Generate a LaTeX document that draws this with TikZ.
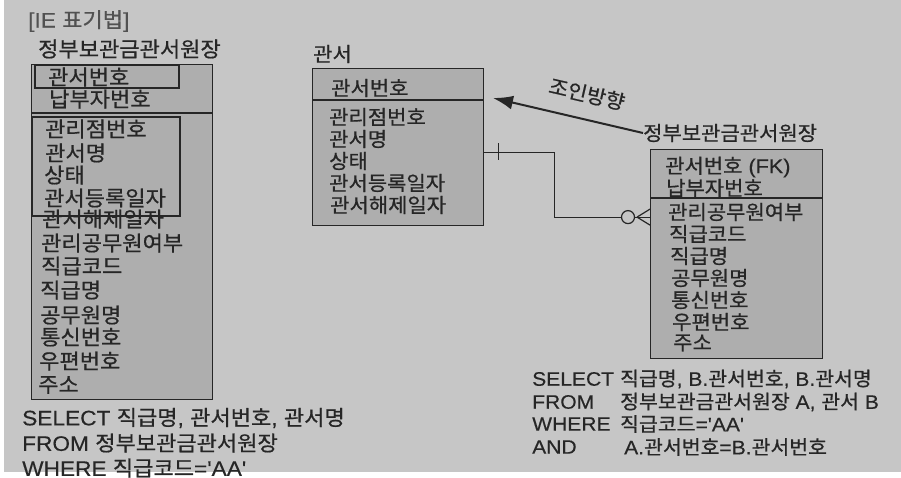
\documentclass[tikz,border=0pt]{standalone}
\usepackage{fontspec}
\setmainfont{Noto Sans CJK KR}[FakeStretch=1.05,FakeBold=0.7]
\newfontfamily\latsans{Liberation Sans}[FakeStretch=1.08,FakeBold=0.3]
\newcommand{\lat}[1]{{\latsans #1}}
\usepackage{tikz}
\usetikzlibrary{arrows.meta,positioning}
\definecolor{pagegray}{RGB}{198,198,198}
\definecolor{boxgray}{RGB}{174,174,174}
\definecolor{inkgray}{RGB}{38,38,38}
\tikzset{
  entity/.style={draw=inkgray, fill=boxgray, line width=1.2pt, inner sep=0pt, anchor=north west},
  attr/.style={anchor=west, inner sep=0pt, text=inkgray, font=\fontsize{20}{22}\selectfont},
  bigattr/.style={attr, font=\fontsize{21}{23}\selectfont},
  sqlline/.style={attr, font=\fontsize{19.5}{21}\selectfont},
  relline/.style={draw=inkgray, line width=1.2pt},
  joinarrow/.style={draw=inkgray, line width=2pt, -{Latex[length=20pt,width=14pt]}},
}

\begin{document}
\begin{tikzpicture}[x=1pt,y=-1pt]
  \useasboundingbox (0,0) rectangle (901,477);
  \clip (0,0) rectangle (901,477);
  % page
  \fill[pagegray] (0,0) rectangle (901,477);
  \fill[white] (0,0) rectangle (4,477);
  \fill[white] (0,472) rectangle (901,477);

  % titles
  \node[bigattr, text=inkgray!80] (ttl) at (28,21) {\lat{[IE }표기법\lat{]}};
  \node[bigattr] (jlabel) at (38,49) {정부보관금관서원장};
  \node[attr] (glabel) at (313,54) {관서};
  \node[attr] (wlabel) at (643,133) {정부보관금관서원장};

  % left entity (one table)
  \node[entity, minimum width=181pt, minimum height=335pt] (jlist) at (31,64) {};
  \draw[relline] ([yshift=-49pt]jlist.north west) -- ([yshift=-49pt]jlist.north east);
  \draw[relline] (35,65) rectangle (179,88);
  \draw[relline, line width=1.8pt] (32,117) rectangle (180,216);
  \node[bigattr] (j1) at (48,77) {관서번호};
  \node[bigattr] (j2) at (49,99) {납부자번호};
  \node[bigattr] (j3) at (45,129) {관리점번호};
  \node[bigattr] (j4) at (45,153) {관서명};
  \node[bigattr] (j5) at (44,175) {상태};
  \node[bigattr] (j6) at (44,198) {관서등록일자};
  \node[bigattr] (j7) at (42,219) {관서해제일자};
  \node[bigattr] (j8) at (41,243) {관리공무원여부};
  \node[bigattr] (j9) at (41,266) {직급코드};
  \node[bigattr] (j10) at (40,290) {직급명};
  \node[bigattr] (j11) at (40,315) {공무원명};
  \node[bigattr] (j12) at (40,337) {통신번호};
  \node[bigattr] (j13) at (39,361) {우편번호};
  \node[bigattr] (j14) at (38,385) {주소};

  % middle entity
  \node[entity, minimum width=171pt, minimum height=157pt] (gwanseo) at (312,68) {};
  \draw[relline] ([yshift=-32pt]gwanseo.north west) -- ([yshift=-32pt]gwanseo.north east);
  \node[attr] (g1) at (331,88) {관서번호};
  \node[attr] (g2) at (329,117) {관리점번호};
  \node[attr] (g3) at (329,139) {관서명};
  \node[attr] (g4) at (329,161) {상태};
  \node[attr] (g5) at (329,183) {관서등록일자};
  \node[attr] (g6) at (330,205) {관서해제일자};

  % right entity
  \node[entity, minimum width=172pt, minimum height=209pt] (wonjang) at (650,149) {};
  \draw[relline] ([yshift=-49pt]wonjang.north west) -- ([yshift=-49pt]wonjang.north east);
  \node[attr] (w1) at (665,167) {관서번호\lat{ (FK)}};
  \node[attr] (w2) at (666,188) {납부자번호};
  \node[attr] (w3) at (668,212) {관리공무원여부};
  \node[attr] (w4) at (669,234) {직급코드};
  \node[attr] (w5) at (670,256) {직급명};
  \node[attr] (w6) at (671,278) {공무원명};
  \node[attr] (w7) at (671,300) {통신번호};
  \node[attr] (w8) at (672,322) {우편번호};
  \node[attr] (w9) at (673,343) {주소};

  % relationship: one to zero-or-many
  \coordinate (gout) at ([yshift=-5pt]gwanseo.east);
  \coordinate (win) at ([yshift=37pt]wonjang.west);
  \draw[relline] (gout) -- ++(70,0) |- (win);
  \draw[relline] ([xshift=14pt]gout) ++(0,-9) -- ++(0,17);
  \draw[relline, fill=pagegray] ([xshift=-22pt]win) circle[radius=6.5pt];
  \draw[relline] ([xshift=-13pt]win) -- ([yshift=8pt]win)
                 ([xshift=-13pt]win) -- ([yshift=-8pt]win);

  % join direction
  \coordinate (jtip) at (493,98);
  \draw[joinarrow] (wlabel.west) -- (jtip);
  \node[attr, anchor=center, rotate=-13] (jdir) at (587,94) {조인방향};

  % queries
  \node[bigattr] (q1) at (22,418) {\lat{SELECT }직급명\lat{, }관서번호\lat{, }관서명};
  \node[bigattr] (q2) at (22,443) {\lat{FROM }정부보관금관서원장};
  \node[bigattr] (q3) at (22,468) {\lat{WHERE }직급코드\lat{='AA'}};

  \node[sqlline] (r1) at (532,379) {\lat{SELECT}};
  \node[sqlline] (r2) at (532,402) {\lat{FROM}};
  \node[sqlline] (r3) at (532,424) {\lat{WHERE}};
  \node[sqlline] (r4) at (532,447) {\lat{AND}};
  \node[sqlline] (s1) at (620,379) {직급명\lat{, B.}관서번호\lat{, B.}관서명};
  \node[sqlline] (s2) at (620,402) {정부보관금관서원장\lat{ A, }관서\lat{ B}};
  \node[sqlline] (s3) at (620,424) {직급코드\lat{='AA'}};
  \node[sqlline] (s4) at (624,447) {\lat{A.}관서번호\lat{=B.}관서번호};
\end{tikzpicture}
\end{document}
